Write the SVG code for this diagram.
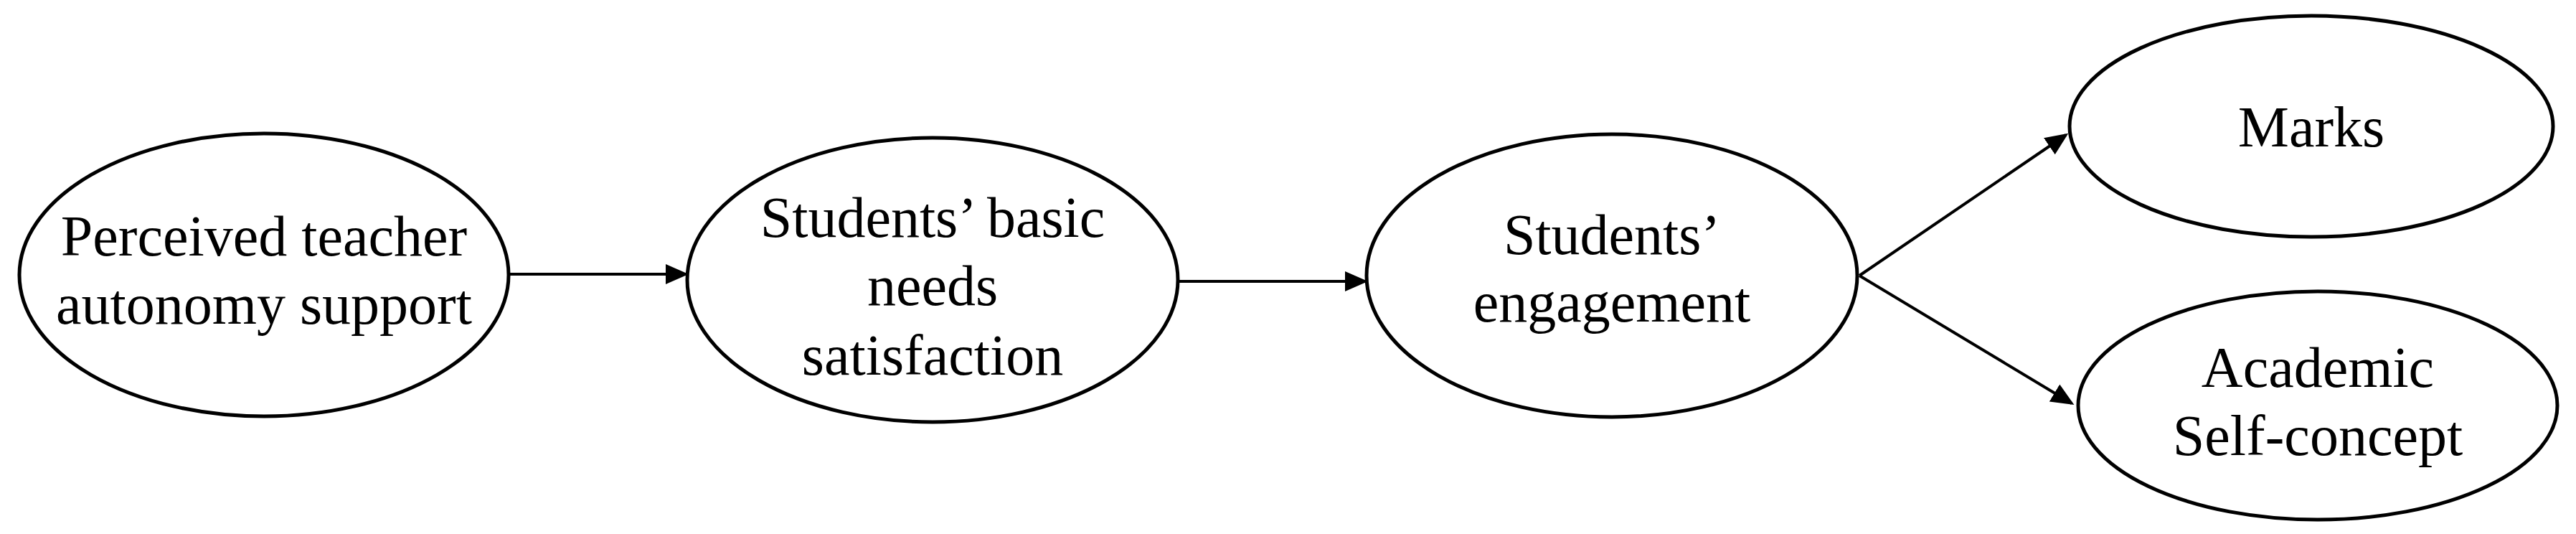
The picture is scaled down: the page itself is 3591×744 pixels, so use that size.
<svg xmlns="http://www.w3.org/2000/svg" width="3591" height="744" viewBox="0 0 3591 744">
<style>
.n{fill:#fff;stroke:#000;stroke-width:5}
.t{font-family:"Liberation Serif","Times New Roman",serif;font-size:80px;text-anchor:middle;fill:#000}
.c{stroke:#000;stroke-width:4;fill:none;marker-end:url(#a)}
</style>
<defs><marker id="a" markerWidth="8" markerHeight="8" refX="7" refY="4" orient="auto" markerUnits="strokeWidth"><path d="M0,0.5 L8,4 L0,7.5Z" fill="#000"/></marker></defs>
<rect width="3591" height="744" fill="#fff"/>
<g id="connectors">
<line class="c" x1="709" y1="382" x2="956" y2="382"/>
<line class="c" x1="1642" y1="392" x2="1903" y2="392"/>
<line class="c" x1="2592" y1="384" x2="2880" y2="188"/>
<line class="c" x1="2592" y1="384" x2="2888" y2="562"/>
</g>
<g id="n1"><ellipse class="n" cx="368" cy="383" rx="341" ry="197"/><text class="t" x="368" y="356">Perceived teacher</text><text class="t" x="368" y="451">autonomy support</text></g>
<g id="n2"><ellipse class="n" cx="1300" cy="390" rx="342" ry="198"/><text class="t" x="1300" y="330">Students’ basic</text><text class="t" x="1300" y="425">needs</text><text class="t" x="1300" y="522">satisfaction</text></g>
<g id="n3"><ellipse class="n" cx="2247" cy="384" rx="342" ry="197"/><text class="t" x="2247" y="354">Students’</text><text class="t" x="2247" y="448">engagement</text></g>
<g id="n4"><ellipse class="n" cx="3222" cy="176" rx="337" ry="154"/><text class="t" x="3222" y="204">Marks</text></g>
<g id="n5"><ellipse class="n" cx="3231" cy="565" rx="334" ry="159"/><text class="t" x="3231" y="539">Academic</text><text class="t" x="3231" y="634">Self-concept</text></g>
</svg>
